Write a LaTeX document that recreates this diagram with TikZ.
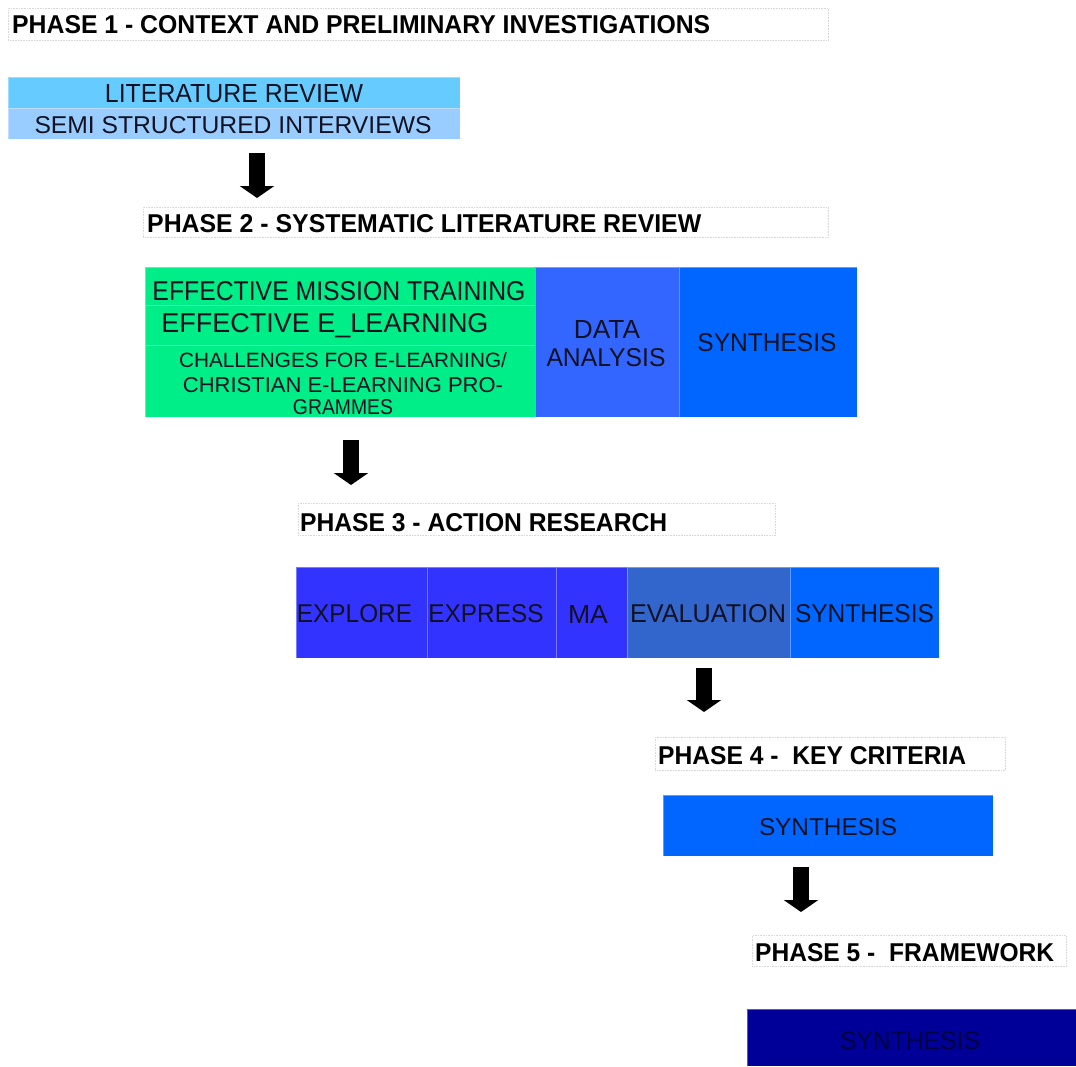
\documentclass[tikz,border=0pt]{standalone}
\usepackage{fontspec}
\setmainfont{Liberation Sans}
\usepackage{graphicx}
\usetikzlibrary{arrows.meta}

\definecolor{ink}{HTML}{111122}
\definecolor{litblue}{HTML}{66CCFF}
\definecolor{semiblue}{HTML}{99CCFF}
\definecolor{slrgreen}{HTML}{00EE88}
\definecolor{anablue}{HTML}{3366FF}
\definecolor{synblue}{HTML}{0066FF}
\definecolor{arblue}{HTML}{3333FF}
\definecolor{evalblue}{HTML}{3366CC}
\definecolor{navy}{HTML}{000099}
\definecolor{navyink}{HTML}{000040}

% text scaled to a given width and cap height
\newcommand\fitto[3]{\resizebox{#1pt}{#2pt}{#3}}

\tikzset{
  cell/.style={rectangle, inner sep=0pt, anchor=north west, fill=#1,
               draw=white, draw opacity=0.35, line width=0.8pt},
  titlebox/.style={rectangle, inner sep=0pt, anchor=north west, fill=white,
                   draw=black!15, densely dotted, line width=0.6pt},
  titletxt/.style={inner sep=0pt, anchor=base west, text=black, font=\bfseries},
  celltxt/.style={inner sep=0pt, anchor=center, text=ink},
  blockarrow/.style={line width=16pt, draw=black,
                     -{Triangle[width=34pt,length=12pt]}},
}

\begin{document}
\begin{tikzpicture}[x=1pt,y=-1pt]
\useasboundingbox (0,0) rectangle (1076,1066);

% ---------------- Phase 1
\node[titlebox, minimum width=820pt, minimum height=32pt] (p1box) at (8,8) {};
\node[titletxt] (p1) at (12,33) {\fitto{698}{18}{PHASE 1 - CONTEXT AND PRELIMINARY INVESTIGATIONS}};

\node[cell=litblue, minimum width=452pt, minimum height=31pt] (lit) at (8,77) {};
\node[celltxt] (littxt) at (234,94) {\fitto{258}{18}{LITERATURE REVIEW}};
\node[cell=semiblue, minimum width=452pt, minimum height=31pt] (semi) at (8,108) {};
\node[celltxt] (semitxt) at (233,125) {\fitto{397}{17}{SEMI STRUCTURED INTERVIEWS}};

\coordinate (a1s) at (257,153);
\coordinate (a1e) at (257,198);
\draw[blockarrow] (a1s) -- (a1e);

% ---------------- Phase 2
\node[titlebox, minimum width=685pt, minimum height=30pt] (p2box) at (143,207) {};
\node[titletxt] (p2) at (147,232) {\fitto{554}{18}{PHASE 2 - SYSTEMATIC LITERATURE REVIEW}};

\node[cell=slrgreen, minimum width=390pt, minimum height=38pt] (emt) at (145,267) {};
\node[cell=slrgreen, minimum width=390pt, minimum height=40pt] (eel) at (145,305) {};
\node[cell=slrgreen, minimum width=390pt, minimum height=72pt] (chal) at (145,345) {};
\node[celltxt] (emttxt) at (339,291) {\fitto{373}{19}{EFFECTIVE MISSION TRAINING}};
\node[celltxt] (eeltxt) at (325,326) {\fitto{327}{19}{EFFECTIVE E\_LEARNING}};
\node[celltxt] (chal1) at (343,360) {\fitto{328}{15}{CHALLENGES FOR E-LEARNING/}};
\node[celltxt] (chal2) at (343,385) {\fitto{320}{15}{CHRISTIAN E-LEARNING PRO-}};
\node[celltxt] (chal3) at (343,407) {\fitto{100}{15}{GRAMMES}};

\node[cell=anablue, minimum width=144pt, minimum height=150pt] (ana) at (535,267) {};
\node[celltxt] (anatxt1) at (607,329) {\fitto{66}{18}{DATA}};
\node[celltxt] (anatxt2) at (606,358) {\fitto{119}{18}{ANALYSIS}};
\node[cell=synblue, minimum width=178pt, minimum height=150pt] (syn2) at (679,267) {};
\node[celltxt] (syn2txt) at (767,343) {\fitto{139}{18}{SYNTHESIS}};

\coordinate (a2s) at (351,440);
\coordinate (a2e) at (351,485);
\draw[blockarrow] (a2s) -- (a2e);

% ---------------- Phase 3
\node[titlebox, minimum width=477pt, minimum height=32pt] (p3box) at (298,503) {};
\node[titletxt] (p3) at (300,531) {\fitto{367}{18}{PHASE 3 - ACTION RESEARCH}};

\node[cell=arblue, minimum width=131pt, minimum height=91pt] (explore) at (296,567) {};
\node[cell=arblue, minimum width=129pt, minimum height=91pt] (express) at (427,567) {};
\node[cell=arblue, minimum width=71pt, minimum height=91pt] (ma) at (556,567) {};
\node[cell=evalblue, minimum width=163pt, minimum height=91pt] (eval) at (627,567) {};
\node[cell=synblue, minimum width=149pt, minimum height=91pt] (syn3) at (790,567) {};
\node[celltxt] (exploretxt) at (354.5,614) {\fitto{115}{18}{EXPLORE}};
\node[celltxt] (expresstxt) at (486,614) {\fitto{115}{18}{EXPRESS}};
\node[celltxt] (matxt) at (588,614) {\fitto{40}{18}{MA}};
\node[celltxt] (evaltxt) at (708,614) {\fitto{156}{18}{EVALUATION}};
\node[celltxt] (syn3txt) at (864.5,614) {\fitto{139}{18}{SYNTHESIS}};

\coordinate (a3s) at (704,668);
\coordinate (a3e) at (704,712);
\draw[blockarrow] (a3s) -- (a3e);

% ---------------- Phase 4
\node[titlebox, minimum width=350pt, minimum height=33pt] (p4box) at (655,737) {};
\node[titletxt] (p4) at (658,764) {\fitto{308}{18}{PHASE 4 -\ \ KEY CRITERIA}};

\node[cell=synblue, minimum width=330pt, minimum height=61pt] (syn4) at (663,795) {};
\node[celltxt] (syn4txt) at (828,827) {\fitto{138}{17}{SYNTHESIS}};

\coordinate (a4s) at (801,867);
\coordinate (a4e) at (801,912);
\draw[blockarrow] (a4s) -- (a4e);

% ---------------- Phase 5
\node[titlebox, minimum width=314pt, minimum height=31pt] (p5box) at (752,935) {};
\node[titletxt] (p5) at (755,961) {\fitto{299}{18}{PHASE 5 -\ \ FRAMEWORK}};

\node[cell=navy, minimum width=329pt, minimum height=57pt] (syn5) at (747,1009) {};
\node[celltxt, text=navyink] (syn5txt) at (910,1041) {\fitto{140}{18}{SYNTHESIS}};

\end{tikzpicture}
\end{document}
